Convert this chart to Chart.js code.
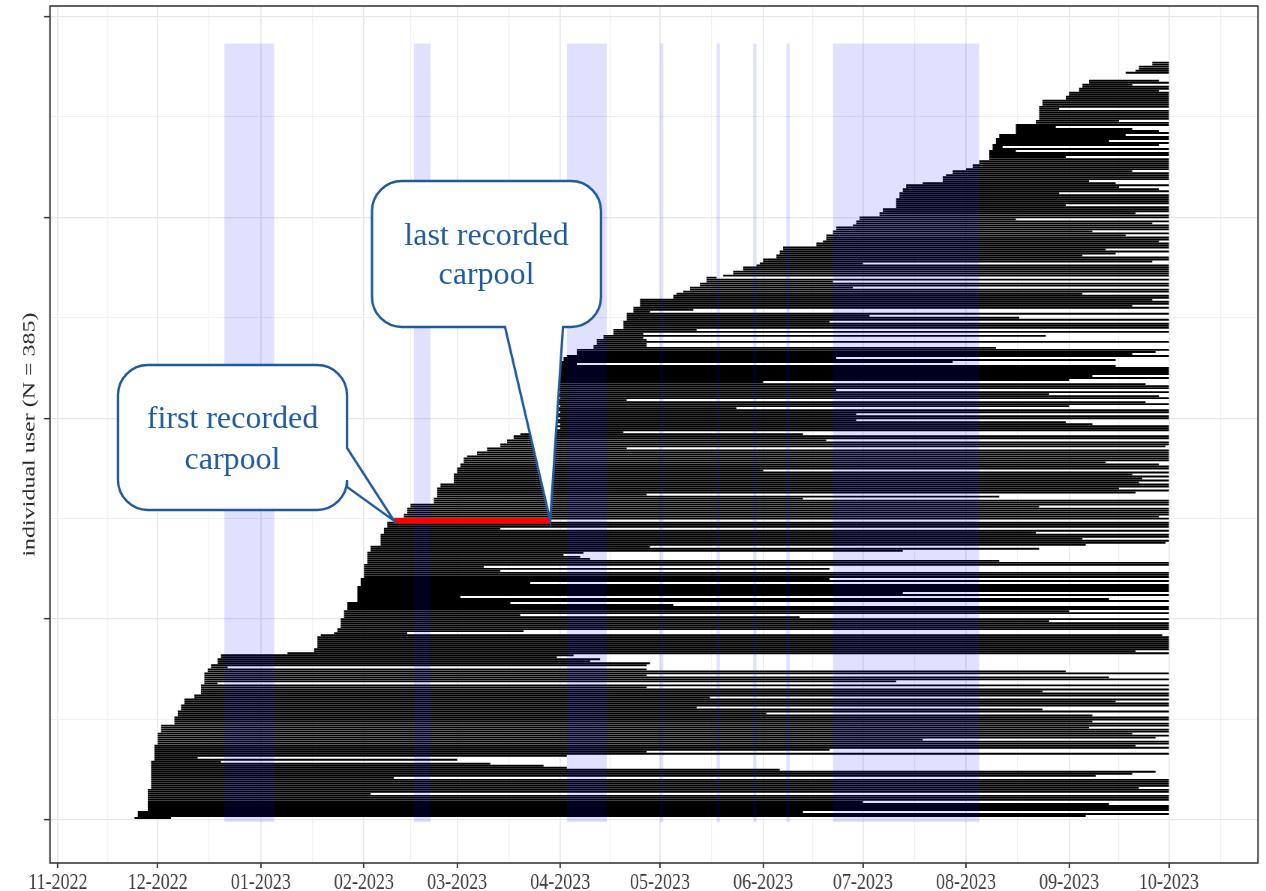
<!DOCTYPE html>
<html>
<head>
<meta charset="utf-8">
<title>Carpool activity per user</title>
<script src="https://cdn.jsdelivr.net/npm/chart.js@4.4.1/dist/chart.umd.min.js"></script>
<style>
  html, body { margin: 0; padding: 0; background: #ffffff; overflow: hidden; }
  canvas { display: block; }
</style>
</head>
<body>
<!-- drawn on a wider buffer and shown at 1266 px wide: the figure keeps its horizontally condensed look -->
<canvas id="chart" width="1688" height="891" style="width:1266px;height:891px"></canvas>
<script>
// ---- data: one row per user, sorted by first carpool; days counted from 1 Nov 2022 ----
const START_DAY = [
  23,24,24,24,27,27,27,27,27,27,27,27,27,27,27,28,28,28,28,28,
  28,28,28,28,28,28,28,28,28,29,29,29,29,29,29,29,29,30,30,30,
  30,30,30,31,31,31,31,35,35,35,35,36,36,36,37,37,37,38,38,38,
  41,41,43,43,43,43,43,44,44,44,44,44,44,45,45,46,46,48,48,48,
  49,49,69,77,77,78,78,78,78,78,78,79,83,84,84,85,85,85,85,85,
  86,86,86,86,87,87,87,87,90,90,90,90,90,90,90,90,91,91,91,91,
  92,92,92,92,92,92,92,93,93,93,93,93,93,94,94,94,97,97,97,97,
  97,97,98,98,98,99,99,99,101,104,104,104,105,105,105,106,106,113,113,113,
  114,114,114,114,114,115,115,119,119,119,119,119,120,120,120,121,121,122,122,122,
  123,126,126,129,129,133,133,135,135,137,137,139,150,150,151,150,151,150,150,151,
  150,150,151,150,150,151,150,150,150,151,150,150,151,150,150,151,150,150,151,150,
  151,151,151,151,151,151,150,151,152,152,153,156,156,156,161,161,162,162,162,164,
  164,167,167,167,170,170,170,170,171,171,171,171,173,173,173,175,175,175,175,185,
  185,186,188,190,190,193,193,195,195,195,200,203,203,206,206,210,211,212,212,216,
  216,217,217,218,218,228,228,230,231,231,231,233,233,234,234,239,240,240,241,241,
  247,247,248,248,252,252,252,252,252,253,253,253,254,254,255,255,260,266,266,266,
  267,269,269,273,275,275,277,277,280,280,280,280,280,281,281,281,282,282,282,283,
  283,288,288,288,288,288,294,294,295,295,295,295,295,295,295,296,296,296,303,303,
  304,304,307,307,308,308,310,310,312,315,318,321,324,325,325,329,329,329,330,330,
  331,332,332,333,333
];
const END_DAY = [
  34,309,334,224,334,334,334,316,242,334,334,334,94,334,334,325,334,334,334,334,
  101,312,323,330,217,153,146,130,49,120,42,153,334,177,232,334,324,334,334,260,
  330,334,323,334,334,310,334,334,311,334,334,311,213,334,296,192,334,334,318,334,
  196,334,334,296,334,177,334,48,252,334,316,177,334,303,177,51,177,178,160,163,
  150,155,334,324,334,334,334,334,334,334,334,332,105,140,334,334,334,334,298,334,
  223,139,334,304,334,334,185,136,334,316,121,334,254,334,334,334,334,142,334,232,
  334,334,334,133,232,128,334,334,283,160,157,152,158,254,295,178,309,333,334,308,
  334,334,294,334,133,334,334,334,148,334,331,334,334,334,334,295,334,334,334,224,
  283,177,324,334,319,334,334,325,334,326,334,323,334,212,334,334,331,315,334,334,
  334,334,334,334,171,333,334,334,231,334,334,224,170,334,334,334,311,303,240,334,
  334,240,334,334,204,304,334,327,171,334,331,298,334,234,334,334,327,212,304,334,
  311,334,334,334,334,318,156,269,318,234,334,323,330,334,282,177,177,334,177,176,
  297,176,334,192,334,334,334,232,334,289,244,334,178,191,334,323,334,334,329,334,
  334,308,334,334,239,334,334,233,334,198,334,334,334,334,334,334,242,329,334,334,
  308,318,334,315,334,334,334,331,334,334,321,334,311,334,334,334,329,334,288,334,
  334,324,334,334,334,303,334,334,334,334,334,301,334,331,319,334,318,310,334,334,
  334,334,323,334,334,334,334,334,334,303,334,334,288,334,284,331,334,316,334,334,
  321,334,331,323,300,334,334,319,334,334,334,334,334,301,334,334,334,334,334,334,
  334,334,331,334,334,323,334,331,312,315,318,334,334,334,334,334,334,329,330,330,
  331,332,332,333,333
];
const HIGHLIGHT_USER = 149;              // user whose first and last carpool are pointed out
const X_TICK_LABELS = ['11-2022','12-2022','01-2023','02-2023','03-2023','04-2023',
                       '05-2023','06-2023','07-2023','08-2023','09-2023','10-2023'];
const Y_TICKS = [0, 100, 200, 300, 400];
// school holidays / public holidays shaded in the background
const BAND_START = ['2022-12-21','2023-02-16','2023-04-03','2023-05-01','2023-05-18','2023-05-29','2023-06-08','2023-06-22'];
const BAND_END   = ['2023-01-05','2023-02-21','2023-04-15','2023-05-02','2023-05-19','2023-05-30','2023-06-09','2023-08-05'];
const BAND_Y = [-1, 386.5];
const Y_TITLE = 'individual user (N = 385)';
const CALLOUT_FIRST = ['first recorded', 'carpool'];
const CALLOUT_LAST  = ['last recorded', 'carpool'];

// ---- helpers ----
const S = 1266 / 1688;                   // horizontal display factor of the canvas
const DAY0 = Date.UTC(2022, 10, 1);
const dayOf = iso => { const [y, m, d] = iso.split('-').map(Number); return (Date.UTC(y, m - 1, d) - DAY0) / 86400000; };
const monthStart = (m, y) => (Date.UTC(y, m - 1, 1) - DAY0) / 86400000;
const X_MIN = -2.4, X_MAX = 360.8, Y_MIN = -21.4, Y_MAX = 405.2;

const majorX = X_TICK_LABELS.map(l => { const [m, y] = l.split('-').map(Number); return monthStart(m, y); });
const lastLbl = X_TICK_LABELS[X_TICK_LABELS.length - 1].split('-').map(Number);
const afterLast = lastLbl[0] === 12 ? monthStart(1, lastLbl[1] + 1) : monthStart(lastLbl[0] + 1, lastLbl[1]);
const minorX = majorX.map((v, k) => (v + (k + 1 < majorX.length ? majorX[k + 1] : afterLast)) / 2)
                     .filter(v => v >= X_MIN && v <= X_MAX);
const labelByDay = new Map(majorX.map((v, k) => [v, X_TICK_LABELS[k]]));
const minorY = Y_TICKS.slice(0, -1).map((v, k) => (v + Y_TICKS[k + 1]) / 2);
const majorYSet = new Set(Y_TICKS);

const users = START_DAY.map((_, k) => k + 1);
const barData = users.map(i => ({ x: [START_DAY[i - 1], END_DAY[i - 1]], y: i }));
const highlightData = [{ x: [START_DAY[HIGHLIGHT_USER - 1], END_DAY[HIGHLIGHT_USER - 1]], y: HIGHLIGHT_USER }];

const SERIF = "'Liberation Serif', 'Times New Roman', serif";
Chart.defaults.font.family = SERIF;

const GRID_MAJOR = '#e8e8e8', GRID_MINOR = '#f0f0f0', AXIS_DARK = '#3a3a3a';
const CALLOUT_BLUE = '#1f5a9c';

// translucent holiday bands, laid over the user bars
const bandsPlugin = {
  id: 'holidayBands',
  afterDatasetDraw(chart, args) {
    if (args.index !== 0) return;
    const { ctx, chartArea: a, scales: { x, y } } = chart;
    const yTop = y.getPixelForValue(BAND_Y[1]);
    const yBot = y.getPixelForValue(BAND_Y[0]);
    ctx.save();
    ctx.beginPath();
    ctx.rect(a.left, a.top, a.right - a.left, a.bottom - a.top);
    ctx.clip();
    ctx.fillStyle = 'rgba(0, 0, 255, 0.12)';
    BAND_START.forEach((s, k) => {
      const x0 = x.getPixelForValue(dayOf(s));
      const x1 = x.getPixelForValue(dayOf(BAND_END[k]));
      ctx.fillRect(x0, yTop, x1 - x0, yBot - yTop);
    });
    ctx.restore();
  }
};

function calloutPath(ctx, box, tail) {
  const { l, t, r, b, rad } = box;
  ctx.beginPath();
  ctx.moveTo(l + rad, t);
  ctx.lineTo(r - rad, t);
  ctx.arcTo(r, t, r, t + rad, rad);
  if (tail.side === 'right') {
    ctx.lineTo(r, tail.from);
    ctx.lineTo(tail.tx, tail.ty);
    ctx.lineTo(r, tail.to);
  }
  ctx.lineTo(r, b - rad);
  ctx.arcTo(r, b, r - rad, b, rad);
  if (tail.side === 'bottom') {
    ctx.lineTo(tail.to, b);
    ctx.lineTo(tail.tx, tail.ty);
    ctx.lineTo(tail.from, b);
  }
  ctx.lineTo(l + rad, b);
  ctx.arcTo(l, b, l, b - rad, rad);
  ctx.lineTo(l, t + rad);
  ctx.arcTo(l, t, l + rad, t, rad);
  ctx.closePath();
}

function drawCallout(ctx, box, tail, lines, lineY) {
  calloutPath(ctx, box, tail);
  ctx.fillStyle = '#ffffff';
  ctx.fill();
  ctx.lineWidth = 2.4;
  ctx.lineJoin = 'miter';
  ctx.strokeStyle = CALLOUT_BLUE;
  ctx.stroke();
  ctx.fillStyle = CALLOUT_BLUE;
  ctx.font = `32px ${SERIF}`;
  ctx.textAlign = 'center';
  ctx.textBaseline = 'middle';
  const cx = (box.l + box.r) / 2;
  lines.forEach((txt, k) => ctx.fillText(txt, cx, lineY[k]));
}

// panel frame and the two callouts, drawn in screen-proportioned coordinates
const overlayPlugin = {
  id: 'frameAndCallouts',
  afterDraw(chart) {
    const { ctx, chartArea: a, scales: { x, y } } = chart;
    ctx.save();
    ctx.scale(1 / S, 1);
    ctx.strokeStyle = AXIS_DARK;
    ctx.lineWidth = 1.6;
    ctx.strokeRect(a.left * S, a.top, (a.right - a.left) * S, a.bottom - a.top);

    const hy = y.getPixelForValue(HIGHLIGHT_USER);
    const firstX = x.getPixelForValue(START_DAY[HIGHLIGHT_USER - 1]) * S;
    const lastX = x.getPixelForValue(END_DAY[HIGHLIGHT_USER - 1]) * S;

    drawCallout(ctx, { l: 118, t: 365, r: 347, b: 510, rad: 30 },
      { side: 'right', from: 448, to: 487, tx: firstX, ty: hy },
      CALLOUT_FIRST, [420, 461]);
    drawCallout(ctx, { l: 372, t: 181, r: 601, b: 327, rad: 30 },
      { side: 'bottom', from: 505, to: 563, tx: lastX, ty: hy },
      CALLOUT_LAST, [237, 276]);
    ctx.restore();
  }
};

const isMajorX = v => labelByDay.has(v);

new Chart(document.getElementById('chart'), {
  type: 'bar',
  data: {
    datasets: [
      { data: barData, backgroundColor: '#000000', barThickness: 1.9, grouped: false,
        inflateAmount: 0, borderWidth: 0, order: 1 },
      { data: highlightData, backgroundColor: '#ff0000', barThickness: 6, grouped: false,
        inflateAmount: 0, borderWidth: 0, order: 0 }
    ]
  },
  options: {
    indexAxis: 'y',
    responsive: false,
    animation: false,
    devicePixelRatio: 1,
    layout: { padding: { top: 6, right: 1688 - 1258 / S, left: 0, bottom: 0 } },
    plugins: { legend: { display: false }, tooltip: { enabled: false } },
    scales: {
      x: {
        type: 'linear', position: 'bottom', min: X_MIN, max: X_MAX, offset: false,
        afterBuildTicks: s => { s.ticks = majorX.concat(minorX).sort((p, q) => p - q).map(v => ({ value: v })); },
        afterFit: s => { s.height = 28; },
        ticks: {
          autoSkip: false, maxRotation: 0, minRotation: 0, padding: 0, color: '#3c3c3c',
          font: { family: SERIF, size: 24 },
          callback: v => labelByDay.get(v) ?? ''
        },
        grid: {
          offset: false,
          color: c => (c.tick && isMajorX(c.tick.value)) ? GRID_MAJOR : GRID_MINOR,
          lineWidth: c => ((c.tick && isMajorX(c.tick.value)) ? 1.3 : 1.0) / S,
          tickColor: c => (c.tick && isMajorX(c.tick.value)) ? AXIS_DARK : 'rgba(0,0,0,0)',
          tickWidth: 1.5 / S,
          tickLength: 5
        },
        border: { display: false }
      },
      y: {
        type: 'linear', position: 'left', min: Y_MIN, max: Y_MAX, offset: false,
        afterBuildTicks: s => { s.ticks = Y_TICKS.concat(minorY).sort((p, q) => p - q).map(v => ({ value: v })); },
        afterFit: s => { s.width = 50 / S; },
        ticks: { display: false },
        grid: {
          offset: false,
          color: c => (c.tick && majorYSet.has(c.tick.value)) ? GRID_MAJOR : GRID_MINOR,
          lineWidth: c => (c.tick && majorYSet.has(c.tick.value)) ? 1.3 : 1.0,
          tickColor: c => (c.tick && majorYSet.has(c.tick.value)) ? AXIS_DARK : 'rgba(0,0,0,0)',
          tickWidth: 1.5,
          tickLength: 6 / S
        },
        border: { display: false },
        title: {
          display: true, text: Y_TITLE, color: '#2a2a2a',
          font: { family: SERIF, size: 24 },
          padding: { top: 25, bottom: 0 }
        }
      }
    }
  },
  plugins: [bandsPlugin, overlayPlugin]
});
</script>
</body>
</html>
